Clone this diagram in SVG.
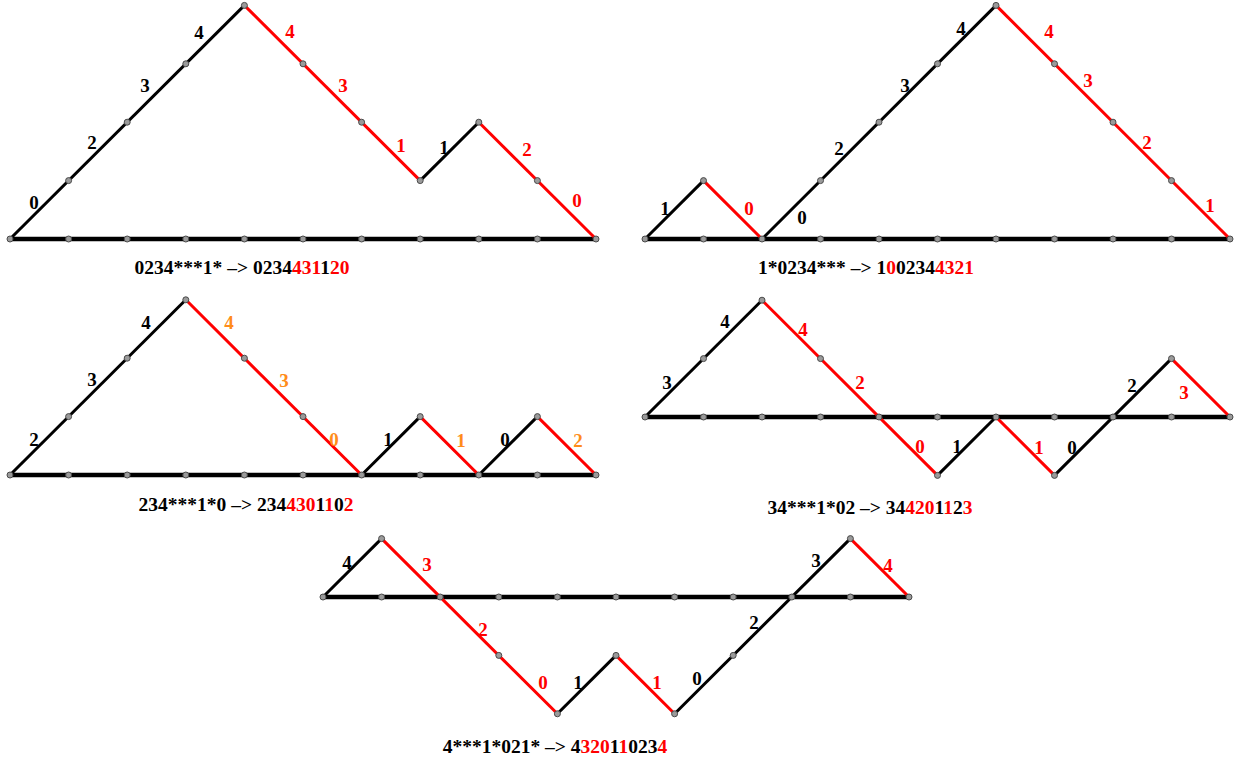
<svg xmlns="http://www.w3.org/2000/svg" width="1238" height="759" viewBox="0 0 1238 759">
<style>
.base{stroke:#000;stroke-width:4.5;fill:none;stroke-linecap:butt}
.up{stroke:#000;stroke-width:3;fill:none;stroke-linejoin:miter}
.dn{stroke:#f00;stroke-width:3;fill:none}
.dot{fill:#9a9a9a;stroke:#4a4a4a;stroke-width:1}
.lb{font-family:"Liberation Serif","Times New Roman",serif;font-weight:bold;font-size:19px;text-anchor:middle}
.k{fill:#000}
.r{fill:#f00}
.o{fill:#ff8c1a}
.cap{font-family:"Liberation Serif","Times New Roman",serif;font-weight:bold;font-size:19.5px;text-anchor:middle;fill:#000}
</style>
<rect width="1238" height="759" fill="#fff"/>

<g id="connectors">
  <!-- panel 1 -->
  <line class="base" x1="10" y1="239" x2="596" y2="239"/>
  <polyline class="up" points="10,239 244.4,5.4"/>
  <polyline class="dn" points="244.4,5.4 420.2,180.6"/>
  <polyline class="up" points="420.2,180.6 478.8,122.2"/>
  <polyline class="dn" points="478.8,122.2 596,239"/>
  <!-- panel 2 -->
  <line class="base" x1="645" y1="239" x2="1230" y2="239"/>
  <polyline class="up" points="645,239 703.5,180.6"/>
  <polyline class="dn" points="703.5,180.6 762,239"/>
  <polyline class="up" points="762,239 996,5.4"/>
  <polyline class="dn" points="996,5.4 1230,239"/>
  <!-- panel 3 -->
  <line class="base" x1="10" y1="475" x2="596" y2="475"/>
  <polyline class="up" points="10,475 185.8,299.8"/>
  <polyline class="dn" points="185.8,299.8 361.6,475"/>
  <polyline class="up" points="361.6,475 420.2,416.6"/>
  <polyline class="dn" points="420.2,416.6 478.8,475"/>
  <polyline class="up" points="478.8,475 537.4,416.6"/>
  <polyline class="dn" points="537.4,416.6 596,475"/>
  <!-- panel 4 -->
  <line class="base" x1="645" y1="417" x2="1230" y2="417"/>
  <polyline class="up" points="645,417 762,300.2"/>
  <polyline class="dn" points="762,300.2 937.5,475.4"/>
  <polyline class="up" points="937.5,475.4 996,417"/>
  <polyline class="dn" points="996,417 1054.5,475.4"/>
  <polyline class="up" points="1054.5,475.4 1171.5,358.6"/>
  <polyline class="dn" points="1171.5,358.6 1230,417"/>
  <!-- panel 5 -->
  <line class="base" x1="323" y1="597" x2="909" y2="597"/>
  <polyline class="up" points="323,597 381.6,538.6"/>
  <polyline class="dn" points="381.6,538.6 557.4,713.8"/>
  <polyline class="up" points="557.4,713.8 616,655.4"/>
  <polyline class="dn" points="616,655.4 674.6,713.8"/>
  <polyline class="up" points="674.6,713.8 850.4,538.6"/>
  <polyline class="dn" points="850.4,538.6 909,597"/>
</g>

<g id="panel1">
  <g class="dots">
    <circle class="dot" cx="10" cy="239" r="3"/><circle class="dot" cx="68.6" cy="239" r="3"/><circle class="dot" cx="127.2" cy="239" r="3"/><circle class="dot" cx="185.8" cy="239" r="3"/><circle class="dot" cx="244.4" cy="239" r="3"/><circle class="dot" cx="303" cy="239" r="3"/><circle class="dot" cx="361.6" cy="239" r="3"/><circle class="dot" cx="420.2" cy="239" r="3"/><circle class="dot" cx="478.8" cy="239" r="3"/><circle class="dot" cx="537.4" cy="239" r="3"/><circle class="dot" cx="596" cy="239" r="3"/>
    <circle class="dot" cx="68.6" cy="180.6" r="3"/><circle class="dot" cx="127.2" cy="122.2" r="3"/><circle class="dot" cx="185.8" cy="63.8" r="3"/><circle class="dot" cx="244.4" cy="5.4" r="3"/><circle class="dot" cx="303" cy="63.8" r="3"/><circle class="dot" cx="361.6" cy="122.2" r="3"/><circle class="dot" cx="420.2" cy="180.6" r="3"/><circle class="dot" cx="478.8" cy="122.2" r="3"/><circle class="dot" cx="537.4" cy="180.6" r="3"/>
  </g>
  <text class="lb k" x="34" y="209">0</text>
  <text class="lb k" x="92" y="149">2</text>
  <text class="lb k" x="145" y="92">3</text>
  <text class="lb k" x="199" y="39">4</text>
  <text class="lb r" x="290" y="38">4</text>
  <text class="lb r" x="343" y="92">3</text>
  <text class="lb r" x="401" y="152">1</text>
  <text class="lb k" x="444" y="154">1</text>
  <text class="lb r" x="527" y="156">2</text>
  <text class="lb r" x="577" y="207">0</text>
  <text class="cap" x="242" y="274">0234***1* –&gt; 0234<tspan class="r">431</tspan>1<tspan class="r">20</tspan></text>
</g>

<g id="panel2">
  <g class="dots">
    <circle class="dot" cx="645" cy="239" r="3"/><circle class="dot" cx="703.5" cy="239" r="3"/><circle class="dot" cx="762" cy="239" r="3"/><circle class="dot" cx="820.5" cy="239" r="3"/><circle class="dot" cx="879" cy="239" r="3"/><circle class="dot" cx="937.5" cy="239" r="3"/><circle class="dot" cx="996" cy="239" r="3"/><circle class="dot" cx="1054.5" cy="239" r="3"/><circle class="dot" cx="1113" cy="239" r="3"/><circle class="dot" cx="1171.5" cy="239" r="3"/><circle class="dot" cx="1230" cy="239" r="3"/>
    <circle class="dot" cx="703.5" cy="180.6" r="3"/><circle class="dot" cx="820.5" cy="180.6" r="3"/><circle class="dot" cx="879" cy="122.2" r="3"/><circle class="dot" cx="937.5" cy="63.8" r="3"/><circle class="dot" cx="996" cy="5.4" r="3"/><circle class="dot" cx="1054.5" cy="63.8" r="3"/><circle class="dot" cx="1113" cy="122.2" r="3"/><circle class="dot" cx="1171.5" cy="180.6" r="3"/>
  </g>
  <text class="lb k" x="665" y="215">1</text>
  <text class="lb r" x="749" y="215">0</text>
  <text class="lb k" x="802" y="224">0</text>
  <text class="lb k" x="839" y="155">2</text>
  <text class="lb k" x="905" y="92">3</text>
  <text class="lb k" x="961" y="35">4</text>
  <text class="lb r" x="1049" y="38">4</text>
  <text class="lb r" x="1088" y="87">3</text>
  <text class="lb r" x="1147" y="149">2</text>
  <text class="lb r" x="1210" y="212">1</text>
  <text class="cap" x="866" y="274">1*0234*** –&gt; 1<tspan class="r">0</tspan>0234<tspan class="r">4321</tspan></text>
</g>

<g id="panel3">
  <g class="dots">
    <circle class="dot" cx="10" cy="475" r="3"/><circle class="dot" cx="68.6" cy="475" r="3"/><circle class="dot" cx="127.2" cy="475" r="3"/><circle class="dot" cx="185.8" cy="475" r="3"/><circle class="dot" cx="244.4" cy="475" r="3"/><circle class="dot" cx="303" cy="475" r="3"/><circle class="dot" cx="361.6" cy="475" r="3"/><circle class="dot" cx="420.2" cy="475" r="3"/><circle class="dot" cx="478.8" cy="475" r="3"/><circle class="dot" cx="537.4" cy="475" r="3"/><circle class="dot" cx="596" cy="475" r="3"/>
    <circle class="dot" cx="68.6" cy="416.6" r="3"/><circle class="dot" cx="127.2" cy="358.2" r="3"/><circle class="dot" cx="185.8" cy="299.8" r="3"/><circle class="dot" cx="244.4" cy="358.2" r="3"/><circle class="dot" cx="303" cy="416.6" r="3"/><circle class="dot" cx="420.2" cy="416.6" r="3"/><circle class="dot" cx="537.4" cy="416.6" r="3"/>
  </g>
  <text class="lb k" x="34" y="446">2</text>
  <text class="lb k" x="92" y="386">3</text>
  <text class="lb k" x="146" y="329">4</text>
  <text class="lb o" x="229" y="329">4</text>
  <text class="lb o" x="284" y="387">3</text>
  <text class="lb o" x="334" y="446">0</text>
  <text class="lb k" x="388" y="446">1</text>
  <text class="lb o" x="461" y="447">1</text>
  <text class="lb k" x="505" y="446">0</text>
  <text class="lb o" x="578" y="447">2</text>
  <text class="cap" x="246" y="511">234***1*0 –&gt; 234<tspan class="r">430</tspan>1<tspan class="r">1</tspan>0<tspan class="r">2</tspan></text>
</g>

<g id="panel4">
  <g class="dots">
    <circle class="dot" cx="645" cy="417" r="3"/><circle class="dot" cx="703.5" cy="417" r="3"/><circle class="dot" cx="762" cy="417" r="3"/><circle class="dot" cx="820.5" cy="417" r="3"/><circle class="dot" cx="879" cy="417" r="3"/><circle class="dot" cx="937.5" cy="417" r="3"/><circle class="dot" cx="996" cy="417" r="3"/><circle class="dot" cx="1054.5" cy="417" r="3"/><circle class="dot" cx="1113" cy="417" r="3"/><circle class="dot" cx="1171.5" cy="417" r="3"/><circle class="dot" cx="1230" cy="417" r="3"/>
    <circle class="dot" cx="703.5" cy="358.6" r="3"/><circle class="dot" cx="762" cy="300.2" r="3"/><circle class="dot" cx="820.5" cy="358.6" r="3"/><circle class="dot" cx="937.5" cy="475.4" r="3"/><circle class="dot" cx="1054.5" cy="475.4" r="3"/><circle class="dot" cx="1171.5" cy="358.6" r="3"/>
  </g>
  <text class="lb k" x="667" y="389">3</text>
  <text class="lb k" x="725" y="328">4</text>
  <text class="lb r" x="803" y="336">4</text>
  <text class="lb r" x="860" y="389">2</text>
  <text class="lb r" x="920" y="453">0</text>
  <text class="lb k" x="957" y="453">1</text>
  <text class="lb r" x="1039" y="454">1</text>
  <text class="lb k" x="1072" y="454">0</text>
  <text class="lb k" x="1132" y="392">2</text>
  <text class="lb r" x="1184" y="399">3</text>
  <text class="cap" x="870" y="514">34***1*02 –&gt; 34<tspan class="r">420</tspan>1<tspan class="r">1</tspan>2<tspan class="r">3</tspan></text>
</g>

<g id="panel5">
  <g class="dots">
    <circle class="dot" cx="323" cy="597" r="3"/><circle class="dot" cx="381.6" cy="597" r="3"/><circle class="dot" cx="440.2" cy="597" r="3"/><circle class="dot" cx="498.8" cy="597" r="3"/><circle class="dot" cx="557.4" cy="597" r="3"/><circle class="dot" cx="616" cy="597" r="3"/><circle class="dot" cx="674.6" cy="597" r="3"/><circle class="dot" cx="733.2" cy="597" r="3"/><circle class="dot" cx="791.8" cy="597" r="3"/><circle class="dot" cx="850.4" cy="597" r="3"/><circle class="dot" cx="909" cy="597" r="3"/>
    <circle class="dot" cx="381.6" cy="538.6" r="3"/><circle class="dot" cx="498.8" cy="655.4" r="3"/><circle class="dot" cx="557.4" cy="713.8" r="3"/><circle class="dot" cx="616" cy="655.4" r="3"/><circle class="dot" cx="674.6" cy="713.8" r="3"/><circle class="dot" cx="733.2" cy="655.4" r="3"/><circle class="dot" cx="850.4" cy="538.6" r="3"/>
  </g>
  <text class="lb k" x="347" y="569">4</text>
  <text class="lb r" x="427" y="571">3</text>
  <text class="lb r" x="483" y="636">2</text>
  <text class="lb r" x="543" y="689">0</text>
  <text class="lb k" x="578" y="689">1</text>
  <text class="lb r" x="657" y="689">1</text>
  <text class="lb k" x="697" y="685">0</text>
  <text class="lb k" x="754" y="629">2</text>
  <text class="lb k" x="816" y="567">3</text>
  <text class="lb r" x="888" y="572">4</text>
  <text class="cap" x="555" y="753">4***1*021* –&gt; 4<tspan class="r">320</tspan>1<tspan class="r">1</tspan>023<tspan class="r">4</tspan></text>
</g>
</svg>
